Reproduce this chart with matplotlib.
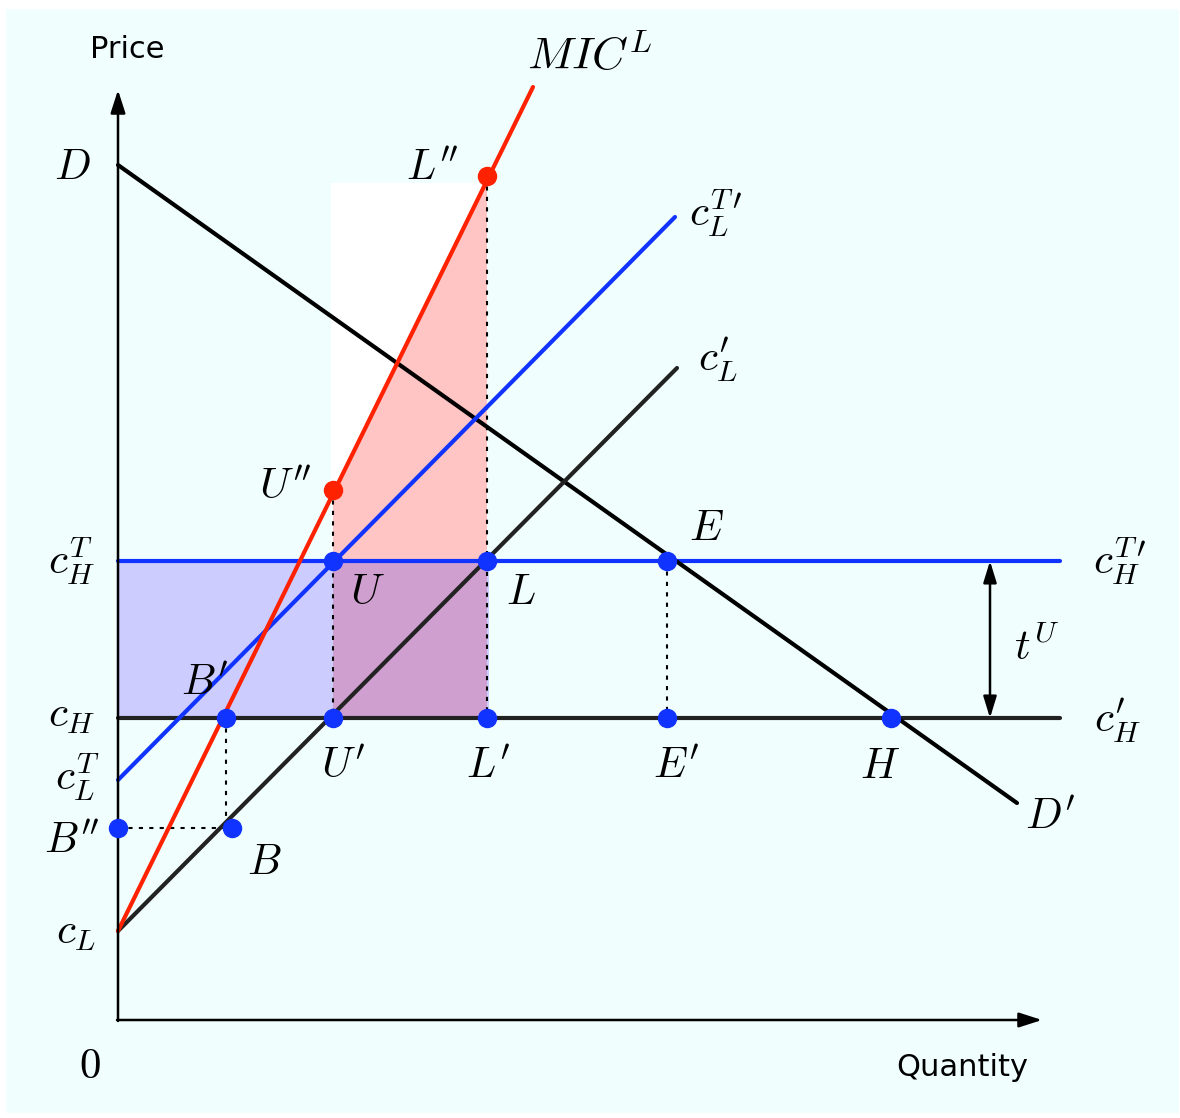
import matplotlib
matplotlib.use("Agg")
import matplotlib.pyplot as plt
from matplotlib.patches import Rectangle, Polygon

plt.rcParams['mathtext.fontset'] = 'cm'

# ---- data (quantity, price) in arbitrary units ----
c_L = 8.9
c_B2 = 19.2
c_LT = 24.0
c_H = 30.2
c_HT = 45.9
D_int = 85.5
D_end = (89.9, 21.7)
MIC_end = (41.5, 93.3)
cLp_end = (55.9, 65.2)
cLTp_end = (55.7, 80.3)
h_end = 94.2

q_U = 21.5
q_L = 36.9
q_E = 54.9
q_Bp = 10.8
q_B = 11.4
q_H = 77.3
p_U2 = 53.0
p_L2 = 84.4
white_top = 83.7
white_left = 21.3
q_arrow = 87.2

x_axis_end = 92.4
y_axis_end = 93.0

fig = plt.figure(figsize=(11.8, 11.18), dpi=100)
fig.patch.set_facecolor('white')
ax = fig.add_axes([0, 0, 1, 1])
ax.set_xlim(-11.8, 106.2)
ax.set_ylim(-9.8, 102.0)
ax.axis('off')

# background panel
ax.add_patch(Rectangle((-11.2, -9.3), 117.3, 110.4, facecolor='#F0FFFE', edgecolor='none', zorder=0))
# white rectangle
ax.add_patch(Rectangle((white_left, c_H), q_L - white_left, white_top - c_H, facecolor='white', edgecolor='none', zorder=1))
# pink region
ax.add_patch(Polygon([(q_U, p_U2), (q_L, p_L2), (q_L, c_HT), (q_U, c_HT)], closed=True,
                     facecolor='#FFC4C4', edgecolor='none', zorder=2))
# lavender region
ax.add_patch(Rectangle((0, c_H), q_L + 0.2, c_HT - c_H, facecolor='#CCCCFF', edgecolor='none', zorder=2))
# overlap (purple)
ax.add_patch(Rectangle((q_U, c_H), q_L - q_U, c_HT - c_H, facecolor='#CF9FCF', edgecolor='none', zorder=2.5))

# axes arrows
head = '-|>,head_length=1.4,head_width=0.45'
ax.annotate('', xy=(0, y_axis_end), xytext=(0, -0.1),
            arrowprops=dict(arrowstyle=head, color='black', lw=1.8, shrinkA=0, shrinkB=0), zorder=5)
ax.annotate('', xy=(x_axis_end, 0), xytext=(-0.1, 0),
            arrowprops=dict(arrowstyle=head, color='black', lw=1.8, shrinkA=0, shrinkB=0), zorder=5)

lw = 3.0
red = '#FF2200'
blue = '#1133FF'
dark = '#222222'

# dotted guide lines
dot = dict(color='black', lw=1.5, ls=(0, (2, 3)), zorder=3)
ax.plot([q_U, q_U], [p_U2, c_H], **dot)
ax.plot([q_L, q_L], [p_L2, c_H], **dot)
ax.plot([q_E, q_E], [c_HT, c_H], **dot)
ax.plot([q_Bp, q_Bp], [c_H, c_B2], **dot)
ax.plot([0, q_B], [c_B2, c_B2], **dot)

# lines
ax.plot([0, h_end], [c_HT, c_HT], color=blue, lw=lw, solid_capstyle='round', zorder=4)
ax.plot([0, h_end], [c_H, c_H], color=dark, lw=lw, solid_capstyle='round', zorder=4)
ax.plot([0, D_end[0]], [D_int, D_end[1]], color='black', lw=lw, solid_capstyle='round', zorder=4)
ax.plot([0, cLp_end[0]], [c_L, cLp_end[1]], color=dark, lw=lw, solid_capstyle='round', zorder=4)
ax.plot([0, cLTp_end[0]], [c_LT, cLTp_end[1]], color=blue, lw=lw, solid_capstyle='round', zorder=4)
ax.plot([0, MIC_end[0]], [c_L, MIC_end[1]], color=red, lw=lw, solid_capstyle='round', zorder=4)

# t^U arrow
ax.annotate('', xy=(q_arrow, c_HT), xytext=(q_arrow, c_H),
            arrowprops=dict(arrowstyle='<|-|>,head_length=1.3,head_width=0.4', color='black', lw=1.8, shrinkA=0, shrinkB=0), zorder=5)

# points
ms = 13
ax.plot([q_U, q_L], [p_U2, p_L2], 'o', color=red, ms=ms, zorder=6)
blue_q = [q_U, q_L, q_E, q_Bp, q_U, q_L, q_E, q_H, 0, q_B]
blue_p = [c_HT, c_HT, c_HT, c_H, c_H, c_H, c_H, c_H, c_B2, c_B2]
ax.plot(blue_q, blue_p, 'o', color=blue, ms=ms, zorder=6)

# text
fs = 31
def t(x, y, s, ha='center', va='center', size=fs):
    ax.text(x, y, s, ha=ha, va=va, fontsize=size, zorder=7)

ax.text(0.9, 97.0, 'Price', ha='center', va='center', fontsize=22, family='DejaVu Sans', zorder=7)
ax.text(84.4, -4.7, 'Quantity', ha='center', va='center', fontsize=22, family='DejaVu Sans', zorder=7)
t(-2.8, -4.6, r'$0$')
t(-4.6, 85.3, r'$D$')
t(47.2, 96.3, r'$MIC^L$', size=33)
t(31.4, 85.2, r"$L''$")
t(59.8, 80.7, r"$c_L^{T\,\prime}$")
t(60.0, 66.0, r"$c_L'$")
t(16.7, 53.3, r"$U''$")
t(58.8, 49.2, r'$E$')
t(-4.6, 45.9, r'$c_H^T$')
t(24.9, 42.8, r'$U$')
t(40.3, 42.8, r'$L$')
t(100.2, 45.9, r"$c_H^{T\,\prime}$")
t(91.9, 37.2, r'$t^U$')
t(8.7, 33.7, r"$B'$")
t(-4.6, 30.5, r'$c_H$')
t(100.0, 29.9, r"$c_H'$")
t(22.5, 25.4, r"$U'$")
t(37.0, 25.4, r"$L'$")
t(55.8, 25.4, r"$E'$")
t(76.2, 25.4, r'$H$')
t(-4.1, 24.3, r'$c_L^T$')
t(93.2, 20.3, r"$D'$")
t(-4.6, 17.9, r"$B''$")
t(14.6, 15.8, r'$B$')
t(-4.2, 8.8, r'$c_L$')

fig.savefig('out.png', dpi=100, facecolor=fig.get_facecolor())
